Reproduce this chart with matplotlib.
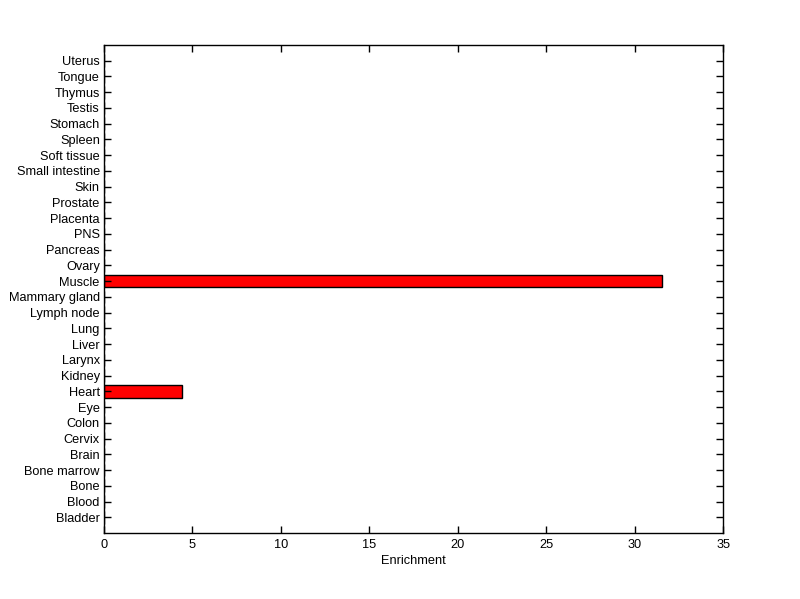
import matplotlib
matplotlib.use("Agg")
import matplotlib.pyplot as plt

tissues = ["Bladder", "Blood", "Bone", "Bone marrow", "Brain", "Cervix", "Colon",
           "Eye", "Heart", "Kidney", "Larynx", "Liver", "Lung", "Lymph node",
           "Mammary gland", "Muscle", "Ovary", "Pancreas", "PNS", "Placenta",
           "Prostate", "Skin", "Small intestine", "Soft tissue", "Spleen",
           "Stomach", "Testis", "Thymus", "Tongue", "Uterus"]
enrichment = [0, 0, 0, 0, 0, 0, 0, 0, 4.42, 0, 0, 0, 0, 0, 0, 31.55,
              0, 0, 0, 0, 0, 0, 0, 0, 0, 0, 0, 0, 0, 0]
xticks = [0, 5, 10, 15, 20, 25, 30, 35]

plt.rcParams['font.family'] = ['Liberation Sans', 'DejaVu Sans']

fig = plt.figure(figsize=(8, 5.99), dpi=100)
ax = fig.add_axes([0.13, 0.1102, 0.774, 0.8147])

pos = list(range(1, len(tissues) + 1))
ax.barh(pos, enrichment, height=0.8, color='red', edgecolor='black', linewidth=1)

ax.set_xlim(0, 35)
ax.set_ylim(0, len(tissues) + 1)
ax.set_xticks(xticks)
ax.set_yticks(pos)
ax.set_yticklabels(tissues)
ax.set_xlabel("Enrichment", fontsize=9.2, labelpad=3)
ax.tick_params(direction='in', length=5, width=1, top=True, right=True,
               labelsize=9.2, pad=3)
ax.tick_params(axis='x', pad=4)
for s in ax.spines.values():
    s.set_linewidth(1)

fig.savefig("out.png", dpi=100)
